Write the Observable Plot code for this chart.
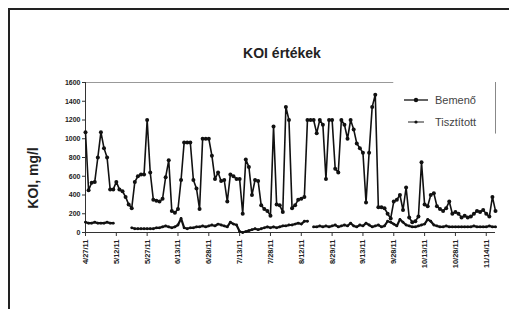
<!DOCTYPE html>
<html>
<head>
<meta charset="utf-8">
<script src="https://cdn.jsdelivr.net/npm/d3@7"></script>
<script src="https://cdn.jsdelivr.net/npm/@observablehq/plot@0.6"></script>
<style>
  html, body { margin: 0; padding: 0; background: #fff; }
  #wrap { position: relative; width: 509px; height: 309px; overflow: hidden; font-family: "Liberation Sans", Arial, sans-serif; }
  #box { position: absolute; left: 8px; top: 8px; width: 530px; height: 330px; border: 2px solid #222; box-sizing: border-box; }
  #title { position: absolute; left: 0; width: 564px; top: 45px; text-align: center; font-weight: bold; font-size: 14px; color: #222; }
  #ylab { position: absolute; left: 33px; top: 178px; transform: translate(-50%, -50%) rotate(-90deg); font-weight: bold; font-size: 14px; color: #222; white-space: nowrap; }
  #chart { position: absolute; left: 0; top: 0; }
  #legend { position: absolute; left: 0; top: 0; }
</style>
</head>
<body>
<div id="wrap">
  <div id="box"></div>
  <div id="chart"></div>
  <div id="title">KOI értékek</div>
  <div id="ylab">KOI, mg/l</div>
  <svg id="legend" width="509" height="309"></svg>
</div>
<script>
// Series: Bemenő (influent) and Tisztított (treated) KOI values, mg/l
const bemeno = [
  1070, 450, 530, 540, 800, 1070, 900, 800, 460, 460,
  540, 460, 440, 380, 300, 260, 540, 600, 620, 620,
  1200, 640, 350, 340, 330, 360, 590, 770, 230, 210,
  250, 560, 960, 960, 960, 560, 470, 250, 1000, 1000,
  1000, 820, 570, 640, 550, 560, 330, 620, 600, 570,
  570, 200, 780, 700, 400, 560, 550, 290, 250, 230,
  180, 1130, 300, 290, 220, 1340, 1200, 260, 290, 350,
  360, 380, 1200, 1200, 1200, 1060, 1200, 1150, 570, 1200,
  1200, 680, 640, 1200, 1150, 1000, 1200, 1100, 950, 900,
  850, 320, 850, 1340, 1470, 270, 270, 260, 200, 150,
  330, 350, 400, 240, 480, 160, 110, 120, 170, 750,
  300, 280, 400, 420, 280, 250, 230, 260, 330, 200,
  220, 200, 160, 180, 160, 170, 200, 230, 220, 240,
  200, 170, 380, 230
];
const tisztitott = [
  110, 100, 100, 110, 100, 100, 100, 110, 100, 100,
  null, null, null, null, null, 50, 40, 40, 40, 40,
  40, 40, 40, 50, 50, 60, 70, 60, 50, 60,
  80, 150, 50, 40, 50, 50, 60, 60, 70, 60,
  70, 80, 70, 90, 80, 70, 60, 110, 90, 80,
  10, 0, 10, 20, 30, 40, 30, 40, 50, 60,
  50, 60, 50, 60, 70, 70, 80, 80, 90, 100,
  90, 120, 120, null, 60, 60, 70, 60, 70, 60,
  70, 80, 60, 70, 80, 70, 100, 70, 60, 80,
  70, 100, 80, 60, 70, 80, 60, 70, 120, 110,
  90, 70, 140, 110, 80, 70, 60, 60, 70, 80,
  90, 140, 120, 80, 70, 60, 60, 70, 60, 60,
  60, 60, 60, 60, 60, 60, 70, 60, 60, 60,
  60, 70, 60, 60
];
// x tick labels (every 10th measurement)
const tickLabels = ["4/27/11", "5/12/11", "5/27/11", "6/13/11", "6/28/11", "7/13/11", "7/28/11",
                    "8/12/11", "8/29/11", "9/13/11", "9/28/11", "10/13/11", "10/28/11", "11/14/11"];
const yTicks = [0, 200, 400, 600, 800, 1000, 1200, 1400, 1600];
const seriesNames = ["Bemenő", "Tisztított"];

const rows = bemeno.map((v, i) => ({i, b: v, t: tisztitott[i]}));
const last = bemeno.length - 1;
const xTicks = tickLabels.map((_, k) => k * 10);

const chart = Plot.plot({
  width: 509,
  height: 309,
  marginLeft: 85,
  marginRight: 14,
  marginTop: 82,
  marginBottom: 77,
  style: {fontFamily: "Liberation Sans, Arial, sans-serif", background: "transparent", color: "#222"},
  x: {domain: [0, last], axis: null},
  y: {domain: [0, 1600], axis: null},
  marks: [
    Plot.ruleY([1600], {x1: 0, x2: 100, stroke: "#999", strokeWidth: 1}),
    Plot.ruleX([last], {y1: 1050, y2: 1600, stroke: "#888", strokeWidth: 1}),
    Plot.axisY({ticks: yTicks, tickFormat: d3.format("d"), tickSize: 3, tickPadding: 2, fontSize: 7, fontWeight: "bold", label: null, stroke: "#333"}),
    Plot.axisX({ticks: xTicks, tickFormat: (d) => tickLabels[d / 10], tickSize: 4, tickPadding: 3, tickRotate: -90, fontSize: 7.5, fontWeight: "bold", label: null, stroke: "#333"}),
    Plot.ruleX([0], {stroke: "#333", strokeWidth: 1}),
    Plot.ruleY([0], {stroke: "#333", strokeWidth: 1}),
    Plot.line(rows, {x: "i", y: "t", stroke: "#111", strokeWidth: 2.2}),
    Plot.dot(rows.filter(d => d.t != null), {x: "i", y: "t", r: 1.4, fill: "#111"}),
    Plot.line(rows, {x: "i", y: "b", stroke: "#111", strokeWidth: 1.6}),
    Plot.dot(rows, {x: "i", y: "b", r: 2, fill: "#111"})
  ]
});
document.getElementById("chart").appendChild(chart);

// legend
const lg = d3.select("#legend");
const rowsY = [100, 122];
seriesNames.forEach((name, k) => {
  const y = rowsY[k];
  lg.append("line").attr("x1", k ? 408 : 404).attr("x2", k ? 424 : 428).attr("y1", y).attr("y2", y)
    .attr("stroke", "#222").attr("stroke-width", k ? 1 : 1.4);
  lg.append("circle").attr("cx", 416).attr("cy", y).attr("r", k ? 1.6 : 2.2).attr("fill", "#111");
  lg.append("text").attr("x", 435).attr("y", y).attr("dy", "0.35em")
    .attr("font-family", "Liberation Sans, Arial, sans-serif").attr("font-size", 11)
    .attr("fill", "#444").text(name);
});
</script>
</body>
</html>
